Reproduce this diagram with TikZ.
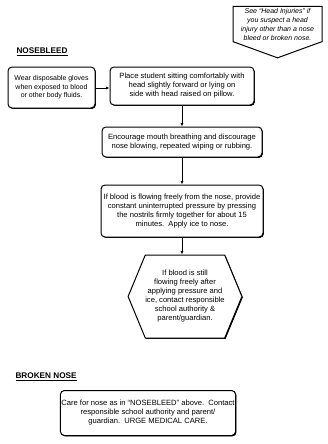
\documentclass[tikz,border=0pt]{standalone}
\usepackage{fontspec}
\setmainfont{Liberation Sans}
\usetikzlibrary{arrows.meta,shapes.symbols,shadows}

\begin{document}
\begin{tikzpicture}[x=1pt, y=1pt,
    stepbox/.style={draw, line width=1pt, rounded corners=4pt, fill=white,
      align=center, inner sep=1pt, font=\fontsize{7.6}{9}\selectfont,
      drop shadow={shadow xshift=0.9pt, shadow yshift=-0.9pt, fill=black, opacity=1}},
    heading/.style={anchor=west, font=\fontsize{8.2}{9}\selectfont\bfseries},
    flow/.style={line width=0.8pt, -{Latex[length=3.5pt, width=3pt]}}]

        \useasboundingbox (0,0) rectangle (327,-444);

        %Head injury note
        \node [draw, line width=1pt, fill=white, shape=signal, signal to=south,
               signal pointer angle=140, align=center, inner sep=1.5pt,
               minimum width=89pt, anchor=north,
               font=\fontsize{7}{9}\selectfont\itshape]
              (note) at (277.5,-6) {See ``Head Injuries'' if\\you suspect a head\\injury other than a nose\\bleed or broken nose.};

        %Nosebleed
        \node [heading] (bleedtitle) at (13,-52) {\underline{NOSEBLEED}};

        \node [stepbox, minimum width=87pt, minimum height=41pt, font=\fontsize{7}{8.6}\selectfont]
              (gloves) at (51.5,-87.5) {Wear disposable gloves\\when exposed to blood\\or other body fluids.};
        \node [stepbox, minimum width=144pt, minimum height=38pt]
              (sitting) at (182,-86) {Place student sitting comfortably with\\head slightly forward or lying on\\side with head raised on pillow.};
        \node [stepbox, minimum width=160pt, minimum height=30pt]
              (breathing) at (182,-142) {Encourage mouth breathing and discourage\\nose blowing, repeated wiping or rubbing.};
        \node [stepbox, minimum width=162pt, minimum height=52pt]
              (pressure) at (182,-211) {If blood is flowing freely from the nose, provide\\constant uninterrupted pressure by pressing\\the nostrils firmly together for about 15\\minutes.\ \ Apply ice to nose.};
        \node [stepbox, rounded corners=0pt, shape=signal, signal to=east and west,
               signal pointer angle=135, inner sep=0pt, minimum width=104pt, minimum height=83pt]
              (contact) at (185,-296.5) {If blood is still\\flowing freely after\\applying pressure and\\ice, contact responsible\\school authority \&\\parent/guardian.};

        \draw [flow] (gloves.east |- 0,-88) -- (sitting.west |- 0,-88);
        \draw [flow] (sitting.south) -- (breathing.north);
        \draw [flow] (breathing.south) -- (pressure.north);
        \draw [flow] (pressure.south) -- (pressure.south |- contact.north);

        %Broken nose
        \node [heading] (brokentitle) at (12,-377) {\underline{BROKEN NOSE}};

        \node [stepbox, minimum width=172pt, minimum height=45pt]
              (brokencare) at (148,-413) {Care for nose as in ``NOSEBLEED'' above.\ \ Contact\\responsible school authority and parent/\\guardian.\ \ URGE MEDICAL CARE.};

      \end{tikzpicture}
\end{document}
